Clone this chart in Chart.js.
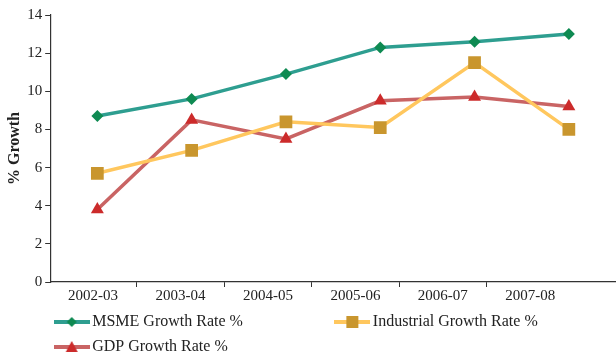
<!DOCTYPE html>
<html lang="en">
<head>
    <meta charset="UTF-8">
    <title>MSME vs Industrial vs GDP Growth</title>
    <style>
        body {
            margin: 0;
            padding: 0;
            background: #FFFFFF;
        }

        .chart-box {
            width: 616px;
            height: 354px;
        }
    </style>
    <script src="https://cdn.jsdelivr.net/npm/chart.js"></script>
</head>
<body>
    <div class="chart-box">
        <canvas id="growthChart" width="616" height="354"></canvas>
    </div>

    <script>
        // Data
        const periods = ['2002-03', '2003-04', '2004-05', '2005-06', '2006-07', '2007-08'];
        const msmeGrowth = [8.7, 9.6, 10.9, 12.3, 12.6, 13.0];
        const industrialGrowth = [5.7, 6.9, 8.4, 8.1, 11.5, 8.0];
        const gdpGrowth = [3.8, 8.5, 7.5, 9.5, 9.7, 9.2];
        const yTicks = [0, 2, 4, 6, 8, 10, 12, 14];

        const serif = "'Liberation Serif', 'DejaVu Serif', serif";
        const textColor = '#222222';
        const axisColor = '#333333';

        // little line + marker icon for the legend
        function makeIcon(lineColor, markerColor, shape) {
            const c = document.createElement('canvas');
            c.width = 36;
            c.height = 14;
            const g = c.getContext('2d');
            g.strokeStyle = lineColor;
            g.lineWidth = 4;
            g.beginPath();
            g.moveTo(0, 7);
            g.lineTo(36, 7);
            g.stroke();
            g.fillStyle = markerColor;
            g.beginPath();
            if (shape === 'diamond') {
                g.moveTo(18, 2); g.lineTo(23, 7); g.lineTo(18, 12); g.lineTo(13, 7);
            } else if (shape === 'square') {
                g.rect(12, 1, 12, 12);
            } else {
                g.moveTo(18, 1); g.lineTo(24, 12); g.lineTo(12, 12);
            }
            g.closePath();
            g.fill();
            return c;
        }

        const icons = [
            makeIcon('#2E9E90', '#0E8A52', 'diamond'),
            makeIcon('#FFC75E', '#C9962E', 'square'),
            makeIcon('#C96464', '#CC2B2B', 'triangle')
        ];

        const ctx = document.getElementById('growthChart').getContext('2d');
        const chart = new Chart(ctx, {
            type: 'line',
            data: {
                labels: periods,
                datasets: [
                    {
                        label: 'MSME Growth Rate %',
                        data: msmeGrowth,
                        borderColor: '#2E9E90',
                        backgroundColor: '#0E8A52',
                        borderWidth: 3.5,
                        pointStyle: 'rectRot',
                        pointRadius: 6,
                        pointBorderWidth: 0,
                        pointBackgroundColor: '#0E8A52',
                        tension: 0
                    },
                    {
                        label: 'Industrial Growth Rate %',
                        data: industrialGrowth,
                        borderColor: '#FFC75E',
                        backgroundColor: '#C9962E',
                        borderWidth: 3.5,
                        pointStyle: 'rect',
                        pointRadius: 9,
                        pointBorderWidth: 0,
                        pointBackgroundColor: '#C9962E',
                        tension: 0
                    },
                    {
                        label: 'GDP Growth Rate %',
                        data: gdpGrowth,
                        borderColor: '#C96464',
                        backgroundColor: '#CC2B2B',
                        borderWidth: 3.5,
                        pointStyle: 'triangle',
                        pointRadius: 7.5,
                        pointBorderWidth: 0,
                        pointBackgroundColor: '#CC2B2B',
                        tension: 0
                    }
                ]
            },
            options: {
                responsive: false,
                animation: false,
                layout: {
                    autoPadding: false,
                    padding: { top: 15, right: 0, bottom: -11, left: 0 }
                },
                plugins: {
                    tooltip: { enabled: false },
                    legend: {
                        position: 'bottom',
                        align: 'start',
                        fullSize: false,
                        labels: {
                            usePointStyle: true,
                            pointStyleWidth: 25,
                            padding: 9,
                            color: textColor,
                            font: { family: serif, size: 16 },
                            generateLabels: (c) => c.data.datasets.map((ds, i) => ({
                                // trailing spaces push the second item over to the right
                                text: i === 0 ? ds.label + ' '.repeat(22) : ds.label,
                                pointStyle: icons[i],
                                fillStyle: ds.backgroundColor,
                                strokeStyle: ds.borderColor,
                                lineWidth: 0,
                                fontColor: textColor,
                                hidden: false,
                                datasetIndex: i
                            }))
                        }
                    }
                },
                scales: {
                    x: {
                        type: 'category',
                        offset: true,
                        display: false
                    },
                    // label axis: the labels sit a little tighter than the points
                    xl: {
                        type: 'linear',
                        position: 'bottom',
                        min: -0.49,
                        max: 5.98,
                        afterBuildTicks: (scale) => {
                            const t = [];
                            for (let i = 0; i < periods.length; i++) {
                                t.push({ value: i });
                                if (i < periods.length - 1) t.push({ value: i + 0.5 });
                            }
                            scale.ticks = t;
                        },
                        ticks: {
                            autoSkip: false,
                            maxRotation: 0,
                            padding: -3,
                            color: textColor,
                            font: { family: serif, size: 15, lineHeight: 1.6 },
                            callback: (v) => Number.isInteger(v) ? periods[v] : ''
                        },
                        grid: {
                            drawOnChartArea: false,
                            tickLength: 5,
                            color: (c) => (c.tick && c.tick.value % 1 !== 0) ? axisColor : 'rgba(0,0,0,0)'
                        },
                        border: { display: true, color: axisColor, width: 1.2 }
                    },
                    y: {
                        min: 0,
                        max: 14,
                        afterBuildTicks: (scale) => {
                            scale.ticks = yTicks.map(v => ({ value: v }));
                        },
                        ticks: {
                            padding: 3,
                            color: textColor,
                            font: { family: serif, size: 15 }
                        },
                        grid: {
                            drawOnChartArea: false,
                            tickLength: 5,
                            color: axisColor
                        },
                        border: { display: true, color: axisColor, width: 1.2 },
                        title: {
                            display: true,
                            text: '% Growth',
                            color: textColor,
                            font: { family: serif, size: 16, weight: 'bold' },
                            padding: { top: 5, bottom: 0 }
                        }
                    }
                }
            }
        });
    </script>
</body>
</html>
